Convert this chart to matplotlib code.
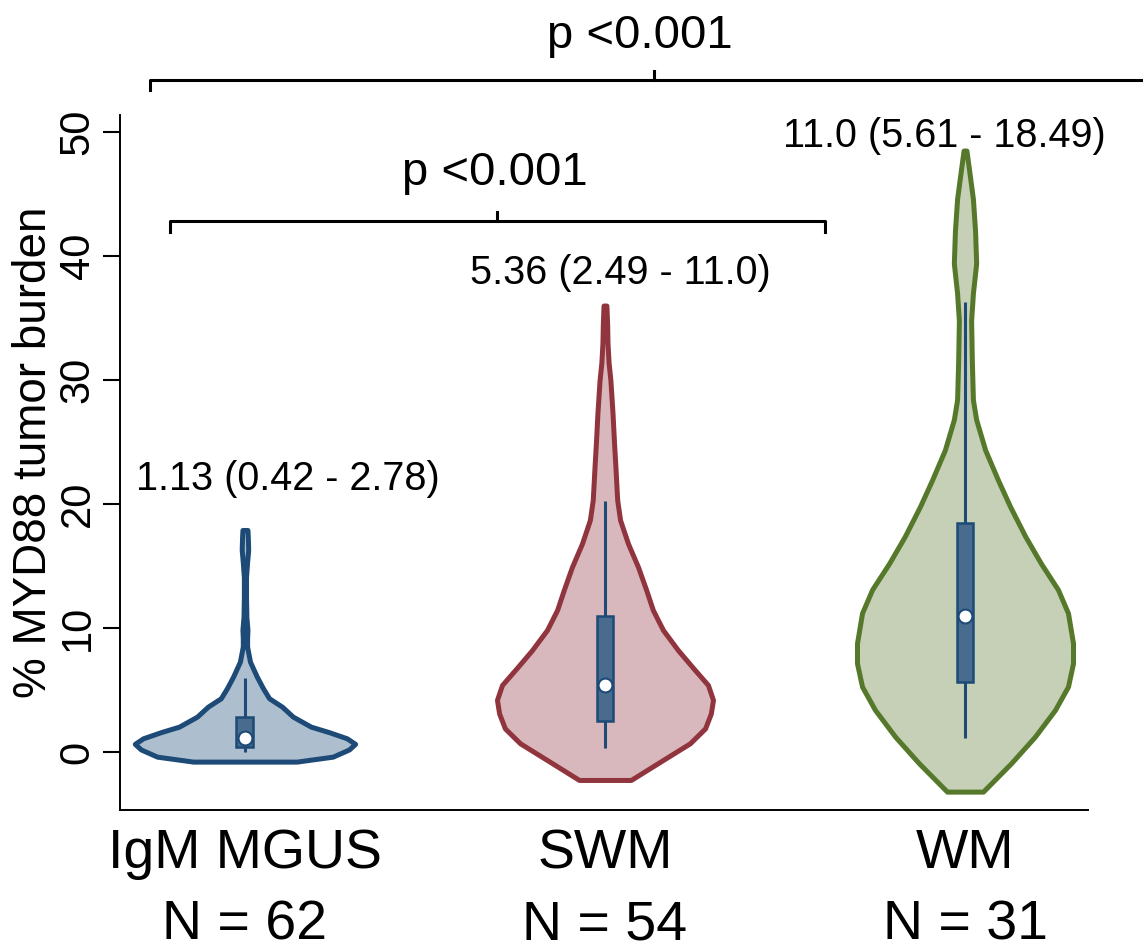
"""Violin plot of MYD88 tumour burden by diagnosis group (Stata-like look)."""
import matplotlib
matplotlib.use("Agg")
import matplotlib.pyplot as plt  # noqa: E402
import matplotlib.transforms as mtrans  # noqa: E402
import numpy as np  # noqa: E402

plt.rcParams.update({"font.family": ["Liberation Sans", "DejaVu Sans"]})

# ---- data ------------------------------------------------------------------
groups = ["IgM MGUS", "SWM", "WM"]
n_obs = [62, 54, 31]
medians = [1.13, 5.36, 11.0]
q1 = [0.42, 2.49, 5.61]
q3 = [2.78, 11.0, 18.49]
whisk_lo = [0.03, 0.3, 1.1]
whisk_hi = [5.95, 20.2, 36.3]
summary = ["1.13 (0.42 - 2.78)", "5.36 (2.49 - 11.0)", "11.0 (5.61 - 18.49)"]

# violin outlines: value along y and half-width of the density (category units)
mgus_y = [-0.78, -0.38, 0.2, 0.65, 1.1, 1.6, 2.04, 2.85, 3.65, 4.33, 5.14,
          6.07, 7.28, 8.5, 9.2, 9.84, 10.9, 12.5, 14.1, 15.3, 16.3, 17.3, 17.9]
mgus_w = [0.144, 0.244, 0.289, 0.306, 0.283, 0.233, 0.183, 0.133, 0.103,
          0.067, 0.050, 0.033, 0.014, 0.006, 0.006, 0.007, 0.004, 0.003,
          0.003, 0.006, 0.009, 0.008, 0.007]
swm_y = [-2.26, -0.65, 0.7, 1.9, 3.1, 4.2, 5.4, 6.8, 8.2, 9.84, 11.45, 13.1,
         14.9, 16.8, 18.7, 20.3, 21.9, 23.0, 25.0, 27.3, 30.0, 31.4, 33.0,
         34.5, 36.0]
swm_w = [0.072, 0.161, 0.236, 0.278, 0.294, 0.300, 0.286, 0.244, 0.203,
         0.161, 0.133, 0.114, 0.092, 0.064, 0.042, 0.034, 0.031, 0.029,
         0.025, 0.021, 0.015, 0.010, 0.007, 0.006, 0.004]
wm_y = [-3.2, -0.91, 1.23, 3.39, 5.27, 7.15, 8.77, 11.2, 13.1, 15.2, 17.4,
        19.8, 21.9, 24.35, 26.8, 28.4, 31.5, 34.8, 37.0, 39.4, 42.0, 44.6,
        47.0, 48.5]
wm_w = [0.050, 0.128, 0.194, 0.250, 0.286, 0.300, 0.300, 0.286, 0.258,
        0.211, 0.167, 0.125, 0.092, 0.056, 0.031, 0.022, 0.019, 0.017,
        0.022, 0.031, 0.028, 0.022, 0.011, 0.004]

# p-value brackets: (left, mid, right) group positions, bracket level
p_text = ["p <0.001", "p <0.001"]
br_x = [(0.736, 2.136, 3.536), (0.792, 1.70, 2.611)]
br_y = [54.2, 42.8]

EDGE = ["#1d4a77", "#90353d", "#55782b"]
FILL = ["#adbecf", "#d8b8bc", "#c5d0b6"]
BOX_FC, BOX_EC = "#486b8e", "#1d4a77"

fig = plt.figure(figsize=(11.43, 9.5), dpi=100)
ax = fig.add_axes([0.105, 0.1474, 0.847, 0.7316])

outlines = [(mgus_y, mgus_w), (swm_y, swm_w), (wm_y, wm_w)]
for i, (vy, vw) in enumerate(outlines):
    pos = i + 1
    vy, vw = np.asarray(vy), np.asarray(vw)
    ax.fill_betweenx(vy, pos - vw, pos + vw, facecolor=FILL[i],
                     edgecolor=EDGE[i], lw=3.6, joinstyle="round", zorder=2)
    ax.plot([pos, pos], [whisk_lo[i], whisk_hi[i]], color=BOX_EC, lw=2.2,
            solid_capstyle="butt", zorder=3)
    ax.bar(pos, q3[i] - q1[i], bottom=q1[i], width=0.047, color=BOX_FC,
           edgecolor=BOX_EC, lw=1.8, zorder=4)
    ax.plot(pos, medians[i], "o", ms=10, mfc="white", mec=BOX_EC, mew=1.5,
            zorder=5)

# summary text over each violin
sum_pos = [(1.119, 21.1), (2.042, 37.7), (2.942, 48.8)]
for (sx, sy), s in zip(sum_pos, summary):
    ax.text(sx, sy, s, ha="center", va="baseline", fontsize=28.5,
            clip_on=False)

# brackets
for (xl, xm, xr), yb in zip(br_x, br_y):
    ax.plot([xl, xl, xr, xr], [yb - 0.85, yb, yb, yb - 0.85], color="black",
            lw=2.2, solid_joinstyle="round", clip_on=False, zorder=6)
    ax.plot([xm, xm], [yb, yb + 0.75], color="black", lw=2.2, clip_on=False,
            zorder=6)
ax.text(2.097, 56.8, p_text[0], ha="center", va="baseline", fontsize=34,
        clip_on=False)
ax.text(1.694, 45.7, p_text[1], ha="center", va="baseline", fontsize=34,
        clip_on=False)

ax.set_xlim(0.653, 3.342)
ax.set_ylim(-4.68, 51.37)
ax.set_yticks([0, 10, 20, 30, 40, 50])
ax.set_xticks([])
ax.tick_params(axis="y", labelsize=30, length=12, width=1.5, pad=4,
               labelrotation=90)
for lab in ax.get_yticklabels():
    lab.set_va("center")
ax.set_ylabel("% MYD88 tumor burden", fontsize=33)
ax.yaxis.set_label_coords(-0.066, 0.515)
for sp in ("top", "right"):
    ax.spines[sp].set_visible(False)
for sp in ("left", "bottom"):
    ax.spines[sp].set_linewidth(1.4)

# group names and counts under the axis
tr = mtrans.blended_transform_factory(ax.transData, fig.transFigure)
for i, (g, n) in enumerate(zip(groups, n_obs)):
    ax.text(i + 1, 0.0863, g, transform=tr, ha="center", va="baseline",
            fontsize=40)
    ax.text(i + 1, 0.011, f"N = {n}", transform=tr, ha="center",
            va="baseline", fontsize=40)

fig.savefig("out.png", dpi=100)
